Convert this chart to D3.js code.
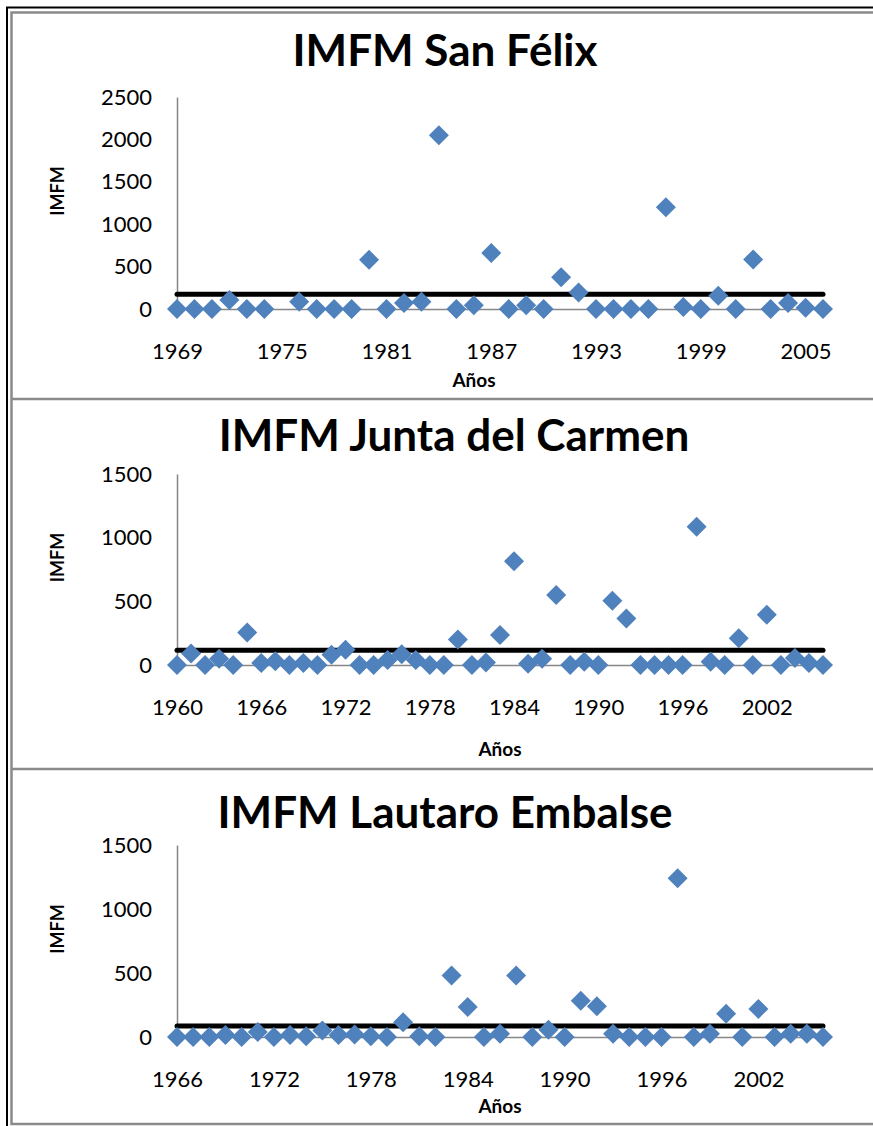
<!DOCTYPE html>
<html>
<head>
<meta charset="utf-8">
<script src="https://cdn.jsdelivr.net/npm/d3@7"></script>
<style>
  html, body { margin: 0; padding: 0; background: #fff; }
  svg { display: block; }
  text { font-family: Lato, "Open Sans", sans-serif; fill: #000; }
</style>
</head>
<body>
<svg id="chart" width="873" height="1126"></svg>
<script>
// IMFM series by station, one value per year (null = no data)
const sanFelixYears = [1969,1970,1971,1972,1973,1974,1975,1976,1977,1978,1979,1980,1981,1982,1983,1984,1985,1986,1987,1988,1989,1990,1991,1992,1993,1994,1995,1996,1997,1998,1999,2000,2001,2002,2003,2004,2005,2006];
const sanFelixValues = [0,0,0,105,0,0,null,85,0,0,0,580,0,70,85,2050,0,45,660,0,45,0,375,195,0,0,0,0,1200,25,0,155,0,585,0,70,15,0];
const sanFelixThreshold = 175;
const sanFelixYTicks = [0,500,1000,1500,2000,2500];
const sanFelixXTicks = [1969,1975,1981,1987,1993,1999,2005];

const juntaYears = [1960,1961,1962,1963,1964,1965,1966,1967,1968,1969,1970,1971,1972,1973,1974,1975,1976,1977,1978,1979,1980,1981,1982,1983,1984,1985,1986,1987,1988,1989,1990,1991,1992,1993,1994,1995,1996,1997,1998,1999,2000,2001,2002,2003,2004,2005,2006];
const juntaValues = [0,90,0,50,0,255,15,30,0,15,0,80,120,0,0,40,85,40,0,0,200,0,20,235,815,10,50,550,0,25,0,505,365,0,0,0,0,1085,25,0,210,0,395,0,55,15,0];
const juntaThreshold = 115;
const juntaYTicks = [0,500,1000,1500];
const juntaXTicks = [1960,1966,1972,1978,1984,1990,1996,2002];

const lautaroYears = [1966,1967,1968,1969,1970,1971,1972,1973,1974,1975,1976,1977,1978,1979,1980,1981,1982,1983,1984,1985,1986,1987,1988,1989,1990,1991,1992,1993,1994,1995,1996,1997,1998,1999,2000,2001,2002,2003,2004,2005,2006];
const lautaroValues = [0,0,0,15,0,40,0,15,5,50,15,20,5,0,115,5,0,480,235,0,25,480,0,57,0,284,240,26,0,0,0,1240,0,26,182,0,219,0,26,26,0];
const lautaroThreshold = 85;
const lautaroYTicks = [0,500,1000,1500];
const lautaroXTicks = [1966,1972,1978,1984,1990,1996,2002];

const panels = [
  { title: "IMFM San Félix", years: sanFelixYears, values: sanFelixValues, threshold: sanFelixThreshold,
    yMax: 2500, yTicks: sanFelixYTicks, xTicks: sanFelixXTicks,
    top: 97, bottom: 309, titleX: 445, titleY: 66, xTitleX: 474, xTitleY: 387 },
  { title: "IMFM Junta del Carmen", years: juntaYears, values: juntaValues, threshold: juntaThreshold,
    yMax: 1500, yTicks: juntaYTicks, xTicks: juntaXTicks,
    top: 474, bottom: 665, titleX: 454, titleY: 451, xTitleX: 500, xTitleY: 756 },
  { title: "IMFM Lautaro Embalse", years: lautaroYears, values: lautaroValues, threshold: lautaroThreshold,
    yMax: 1500, yTicks: lautaroYTicks, xTicks: lautaroXTicks,
    top: 845, bottom: 1037, titleX: 445, titleY: 828, xTitleX: 500, xTitleY: 1113 }
];

const svg = d3.select("#chart");
const plotLeft = 177, plotRight = 823;
const axisGray = "#868686";
const markerBlue = "#4F81BD";

// frame: outer black border, inner grey border and panel separators
svg.append("rect").attr("x", 7).attr("y", 7.5).attr("width", 900).attr("height", 1130)
  .attr("fill", "none").attr("stroke", "#000").attr("stroke-width", 2);
svg.append("rect").attr("x", 11.5).attr("y", 12.5).attr("width", 900).attr("height", 1111.5)
  .attr("fill", "none").attr("stroke", "#8a8a8a").attr("stroke-width", 2.5);
[399, 769].forEach(yy => {
  svg.append("line").attr("x1", 12).attr("x2", 873).attr("y1", yy).attr("y2", yy)
    .attr("stroke", "#8a8a8a").attr("stroke-width", 2.5);
});

panels.forEach(p => {
  const g = svg.append("g");
  const x = d3.scaleLinear().domain([p.years[0], p.years[p.years.length - 1]]).range([plotLeft, plotRight]);
  const y = d3.scaleLinear().domain([0, p.yMax]).range([p.bottom, p.top]);

  // title
  g.append("text").attr("x", p.titleX).attr("y", p.titleY)
    .attr("text-anchor", "middle").attr("font-weight", "bold").attr("font-size", 44)
    .text(p.title);

  // y axis
  const ya = g.append("g").attr("transform", `translate(${plotLeft},0)`)
    .call(d3.axisLeft(y).tickValues(p.yTicks).tickSize(0).tickPadding(25).tickFormat(d3.format("d")));
  ya.select(".domain").attr("stroke", axisGray).attr("stroke-width", 1.5);
  ya.selectAll("text").attr("font-size", 22).attr("font-family", "Lato, sans-serif");

  // x axis
  const xa = g.append("g").attr("transform", `translate(0,${p.bottom})`)
    .call(d3.axisBottom(x).tickValues(p.xTicks).tickSize(0).tickPadding(34).tickFormat(d3.format("d")));
  xa.select(".domain").attr("stroke", axisGray).attr("stroke-width", 1.5);
  xa.selectAll("text").attr("font-size", 22).attr("font-family", "Lato, sans-serif");

  // axis titles
  g.append("text").attr("transform", `translate(64,${(p.top + p.bottom) / 2 - 12}) rotate(-90)`)
    .attr("text-anchor", "middle").attr("font-weight", "bold").attr("font-size", 18).text("IMFM");
  g.append("text").attr("x", p.xTitleX).attr("y", p.xTitleY)
    .attr("text-anchor", "middle").attr("font-weight", "bold").attr("font-size", 19).text("Años");

  // threshold line
  g.append("line")
    .attr("x1", x(p.years[0])).attr("x2", x(p.years[p.years.length - 1]))
    .attr("y1", y(p.threshold)).attr("y2", y(p.threshold))
    .attr("stroke", "#000").attr("stroke-width", 5).attr("stroke-linecap", "round");

  // yearly markers
  const pts = p.years.map((yr, i) => ({ year: yr, value: p.values[i] })).filter(d => d.value !== null);
  g.selectAll("path.marker").data(pts).join("path")
    .attr("class", "marker")
    .attr("d", d3.symbol(d3.symbolSquare, 200))
    .attr("transform", d => `translate(${x(d.year)},${y(d.value)}) rotate(45)`)
    .attr("fill", markerBlue);
});
</script>
</body>
</html>
